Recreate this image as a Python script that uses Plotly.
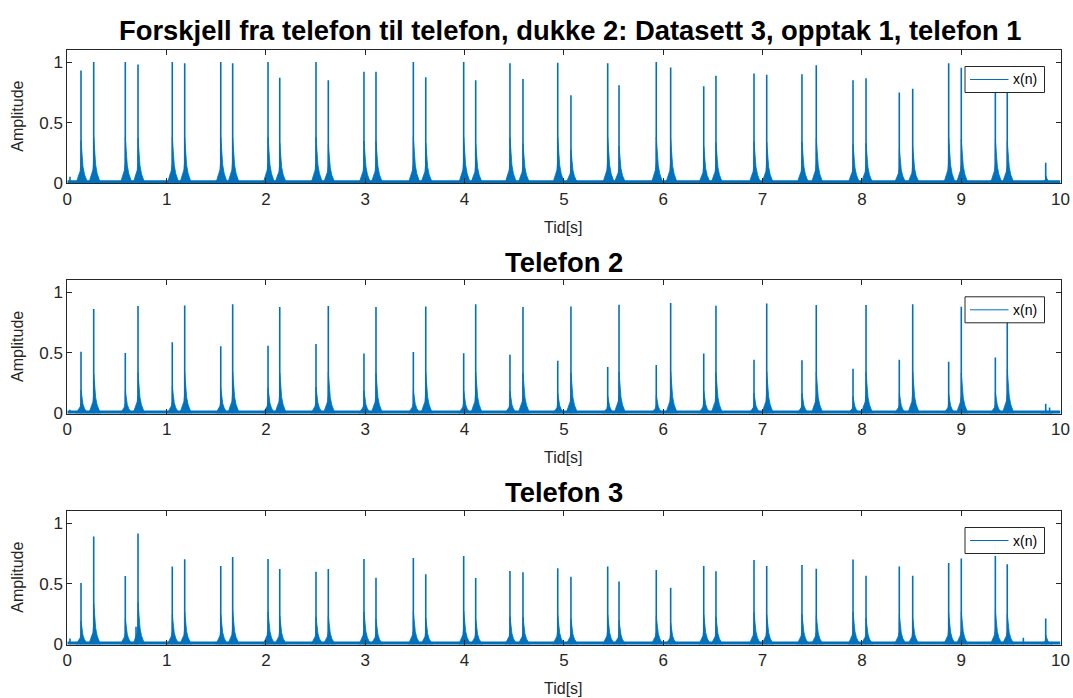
import plotly.graph_objects as go

# Beat times (s), shared by all three phone recordings
t_beats = [0.138, 0.266, 0.584, 0.712, 1.057, 1.182, 1.545, 1.665, 2.021, 2.139,
           2.504, 2.628, 2.987, 3.108, 3.484, 3.609, 3.991, 4.112, 4.457, 4.588,
           4.938, 5.071, 5.441, 5.555, 5.930, 6.075, 6.408, 6.531, 6.914, 7.042,
           7.397, 7.541, 7.911, 8.042, 8.377, 8.512, 8.874, 9.001, 9.344, 9.464,
           9.851]

# Peak amplitude of each beat, per phone
amp_phone1 = [0.93, 1.0, 1.0, 0.98, 1.0, 0.99, 1.0, 0.99, 1.0, 0.87,
              1.0, 0.85, 0.92, 0.92, 1.0, 0.876, 1.0, 0.85, 0.99, 0.86,
              0.995, 0.727, 0.99, 0.81, 1.0, 0.956, 0.80, 0.887, 0.906, 0.895,
              0.90, 0.975, 0.85, 0.867, 0.75, 0.78, 0.99, 0.953, 0.95, 0.90,
              0.17]
amp_phone2 = [0.51, 0.862, 0.50, 0.887, 0.589, 0.892, 0.556, 0.903, 0.559, 0.879,
              0.573, 0.887, 0.496, 0.879, 0.507, 0.884, 0.498, 0.903, 0.485, 0.879,
              0.435, 0.884, 0.383, 0.898, 0.40, 0.912, 0.496, 0.889, 0.443, 0.909,
              0.44, 0.895, 0.369, 0.895, 0.443, 0.903, 0.427, 0.881, 0.463, 0.95,
              0.08]
amp_phone3 = [0.507, 0.89, 0.565, 0.914, 0.642, 0.702, 0.647, 0.722, 0.705, 0.622,
              0.60, 0.622, 0.705, 0.55, 0.713, 0.578, 0.73, 0.548, 0.606, 0.595,
              0.628, 0.559, 0.642, 0.52, 0.614, 0.468, 0.647, 0.603, 0.697, 0.647,
              0.655, 0.625, 0.70, 0.567, 0.642, 0.567, 0.672, 0.708, 0.73, 0.661,
              0.215]

# Small isolated clicks (time, amplitude) per phone
extra_phone1 = [(0.027, 0.055)]
extra_phone2 = [(0.027, 0.03), (9.89, 0.05)]
extra_phone3 = [(0.027, 0.05), (0.692, 0.146), (9.626, 0.055)]

titles = ["Forskjell fra telefon til telefon, dukke 2: Datasett 3, opptak 1, telefon 1",
          "Telefon 2", "Telefon 3"]
legend_label = "x(n)"
x_ticks = list(range(0, 11))
y_ticks = [0, 0.5, 1]
y_ticktext = ["0", "0.5", "1"]

BLUE = "#0072BD"
INK = "#262626"
FONT = "Liberation Sans"

# Envelope of one beat around its peak: offset (s) and height relative to the peak
pulse_dt = [-0.05, -0.035, -0.02, -0.008, -0.002, 0.0, 0.004, 0.01, 0.02, 0.035, 0.05, 0.068]
pulse_rel = [0.0, 0.05, 0.08, 0.11, 0.17, 0.38, 0.32, 0.26, 0.15, 0.08, 0.045, 0.0]

W, H = 1073, 698
x_left, x_right = 67.3, 1060.5
x_dom = [x_left / W, x_right / W]
# (top, bottom) pixel rows of each panel
panel_px = [(50, 183.3), (280.3, 413.5), (511, 644.5)]
title_px = [30, 262, 492]
title_cx_px = [570, 563.9, 563.9]
xlabel_px = [227, 457, 688]

fig = go.Figure()


def px_x(p):
    return p / W


def px_y(p):
    return 1 - p / H


series = [(amp_phone1, extra_phone1), (amp_phone2, extra_phone2), (amp_phone3, extra_phone3)]
for i, (amps, extras) in enumerate(series):
    xa = "x" if i == 0 else f"x{i + 1}"
    ya = "y" if i == 0 else f"y{i + 1}"

    # beat envelopes as closed filled outlines
    ex, ey = [], []
    for t, h in zip(t_beats, amps):
        for d, r in zip(pulse_dt, pulse_rel):
            ex.append(t + d)
            ey.append(r * h)
        ex.append(None)
        ey.append(None)
    fig.add_trace(go.Scatter(x=ex, y=ey, mode="lines", fill="toself", fillcolor=BLUE,
                             line=dict(color=BLUE, width=0.8), xaxis=xa, yaxis=ya,
                             showlegend=False, hoverinfo="skip"))

    # sharp peaks as vertical strokes
    sx, sy = [], []
    for t, h in list(zip(t_beats, amps)) + list(extras):
        sx += [t, t, None]
        sy += [0, h, None]
    fig.add_trace(go.Scatter(x=sx, y=sy, mode="lines", line=dict(color=BLUE, width=1.6),
                             xaxis=xa, yaxis=ya, showlegend=False, hoverinfo="skip"))

    # noise floor along the baseline
    fig.add_trace(go.Scatter(x=[0, 10], y=[0, 0], mode="lines",
                             line=dict(color=BLUE, width=6), xaxis=xa, yaxis=ya,
                             showlegend=False, hoverinfo="skip"))

    top, bot = panel_px[i]
    axis_common = dict(showline=True, linecolor=INK, linewidth=1, mirror="ticks",
                       ticks="inside", ticklen=5, tickcolor=INK, tickwidth=1,
                       showgrid=False, zeroline=False, automargin=False,
                       tickfont=dict(family=FONT, size=17, color=INK))
    fig.update_layout(**{
        ("xaxis" if i == 0 else f"xaxis{i + 1}"): dict(
            domain=x_dom, range=[0, 10], tickvals=x_ticks, anchor=ya, **axis_common),
        ("yaxis" if i == 0 else f"yaxis{i + 1}"): dict(
            domain=[px_y(bot), px_y(top)], range=[0, 1.1], tickvals=y_ticks,
            ticktext=y_ticktext, anchor=xa, **axis_common),
    })

    # boxed legend in the upper right corner of the panel
    lt = top + 16.5
    lb = lt + 26
    lm = (lt + lb) / 2
    fig.add_shape(type="rect", xref="paper", yref="paper",
                  x0=px_x(965), x1=px_x(1044.5), y0=px_y(lb), y1=px_y(lt),
                  fillcolor="white", line=dict(color=INK, width=1), layer="above")
    fig.add_shape(type="line", xref="paper", yref="paper",
                  x0=px_x(970), x1=px_x(1008.5), y0=px_y(lm), y1=px_y(lm),
                  line=dict(color=BLUE, width=1), layer="above")
    fig.add_annotation(x=px_x(1011), y=px_y(lm), xref="paper", yref="paper",
                       text=legend_label, showarrow=False, xanchor="left", yanchor="middle",
                       font=dict(family=FONT, size=14, color="black"))

    cx = (x_dom[0] + x_dom[1]) / 2
    fig.add_annotation(x=px_x(title_cx_px[i]), y=px_y(title_px[i]), xref="paper", yref="paper",
                       text=f"<b>{titles[i]}</b>", showarrow=False,
                       font=dict(family=FONT, size=27.4, color="black"),
                       xanchor="center", yanchor="middle")
    fig.add_annotation(x=cx, y=px_y(xlabel_px[i]), xref="paper", yref="paper",
                       text="Tid[s]", showarrow=False,
                       font=dict(family=FONT, size=16, color=INK),
                       xanchor="center", yanchor="middle")
    fig.add_annotation(x=px_x(18), y=px_y((top + bot) / 2), xref="paper", yref="paper",
                       text="Amplitude", textangle=-90, showarrow=False,
                       font=dict(family=FONT, size=16, color=INK),
                       xanchor="center", yanchor="middle")

fig.update_layout(width=W, height=H, margin=dict(l=0, r=0, t=0, b=0, pad=0),
                  showlegend=False, template="none",
                  paper_bgcolor="white", plot_bgcolor="white")

fig.write_html("out.html")
